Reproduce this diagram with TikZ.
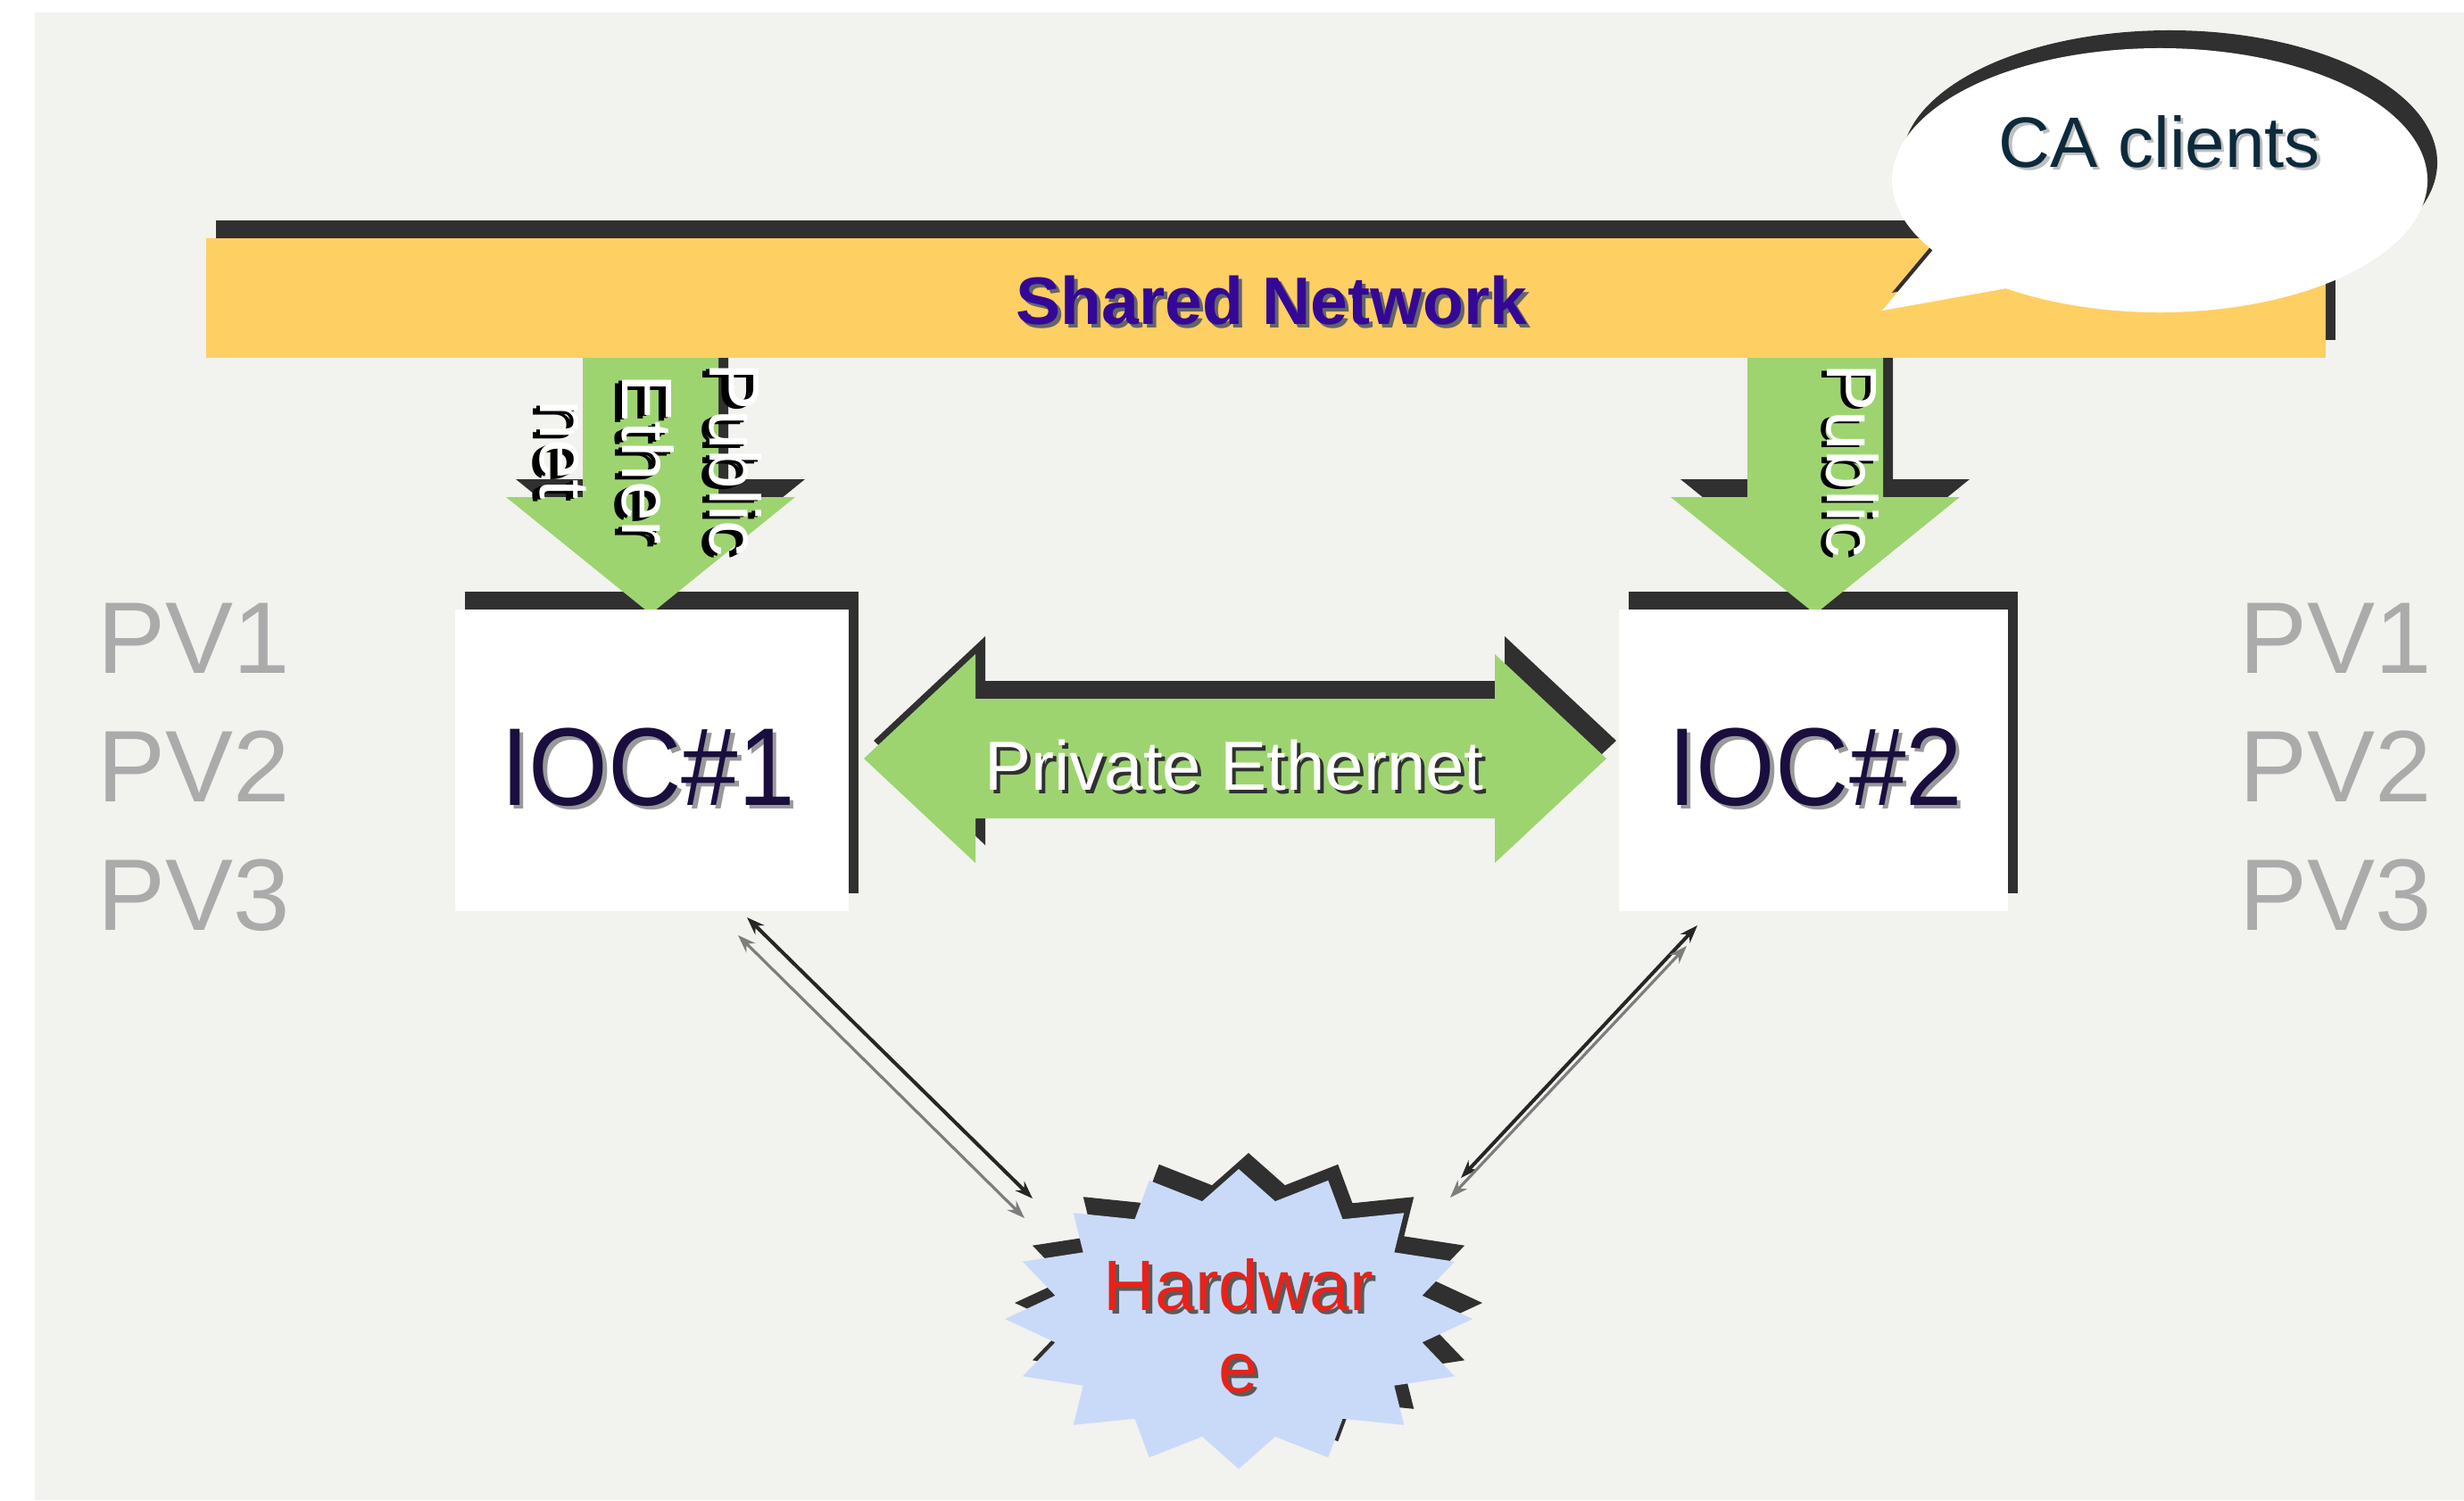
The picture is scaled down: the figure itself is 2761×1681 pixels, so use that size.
\documentclass[tikz,border=0pt]{standalone}
\usepackage{fontspec}
\setmainfont{Liberation Sans}
\usetikzlibrary{arrows.meta}

\definecolor{paper}{RGB}{242,242,238}
\definecolor{dropdark}{RGB}{48,48,48}
\definecolor{netyellow}{RGB}{254,207,99}
\definecolor{linkgreen}{RGB}{157,212,112}
\definecolor{hwblue}{RGB}{201,218,249}
\definecolor{netpurple}{RGB}{52,8,150}
\definecolor{clientnavy}{RGB}{12,42,60}
\definecolor{iocnavy}{RGB}{26,14,62}
\definecolor{hwred}{RGB}{232,34,24}
\definecolor{pvgrey}{RGB}{171,171,171}
\definecolor{wiregrey}{RGB}{125,125,125}
\definecolor{wiredark}{RGB}{38,38,38}

% text with a drop shadow: #1 shadow colour, #2 right shift, #3 raise, #4 text
\newcommand\shtext[4]{\leavevmode\rlap{\kern#2\raisebox{#3}{\textcolor{#1}{#4}}}#4}
% vertical labels carry a heavier, doubled shadow
\newcommand\heavysh[1]{\leavevmode
  \rlap{\kern0.4pt\raisebox{-1.2pt}{\textcolor{black}{#1}}}%
  \rlap{\kern0.9pt\raisebox{-2.2pt}{\textcolor{black}{#1}}}#1}

\tikzset{
  lbl/.style={inner sep=0pt, outer sep=0pt},
  pubtext/.style={lbl, rotate=-90, text=white, font=\fontsize{20pt}{23pt}\selectfont},
  pvtext/.style={lbl, anchor=base west, text=pvgrey, font=\fontsize{28.5pt}{33pt}\selectfont},
  pics/downarrow/.style={code={
    \fill[#1] (-76,-300) -- (76,-300) -- (76,-131) -- (162,-131) -- (0,0)
      -- (-162,-131) -- (-76,-131) -- cycle;}},
  pics/twoway/.style={code={
    \fill[#1] (-416,0) -- (-291,-117) -- (-291,-67) -- (291,-67) -- (291,-117)
      -- (416,0) -- (291,117) -- (291,67) -- (-291,67) -- (-291,117) -- cycle;}},
  pics/bubble/.style={code={
    \fill[#1] (-311,146) -- (125:300 and 148)
      arc[start angle=125, end angle=-212, x radius=300, y radius=148] -- cycle;}},
  pics/burst/.style={code={
    \fill[#1] plot[samples at={0,...,31}, variable=\k]
      ({(1-0.2*mod(\k,2))*262*cos(-90+11.25*\k)},
       {(1-0.2*mod(\k,2))*168*sin(-90+11.25*\k)}) -- cycle;}},
  wire/.style={line width=1pt,
    {Stealth[length=5pt,width=3.6pt]}-{Stealth[length=5pt,width=3.6pt]}},
}

\begin{document}
\begin{tikzpicture}[x=0.25pt, y=-0.25pt]
\useasboundingbox (0,0) rectangle (2761,1681);
\fill[white] (0,0) rectangle (2761,1681);
\fill[paper] (39,14) rectangle (2761,1681);

% IOC box shadows
\fill[dropdark] (521,663) rectangle (962,1001);
\fill[dropdark] (1825,663) rectangle (2261,1001);

% public links from the shared network
\pic at (740,668) {downarrow=dropdark};
\pic at (729,688) {downarrow=linkgreen};
\pic at (2045,668) {downarrow=dropdark};
\pic at (2034,688) {downarrow=linkgreen};

% IOC boxes
\fill[white] (510,683) rectangle (951,1021);
\fill[white] (1814,683) rectangle (2250,1021);

% shared network bar
\fill[dropdark] (242,247) rectangle (2617,381);
\fill[netyellow] (231,267) rectangle (2606,401);

% CA clients callout
\pic at (2431,182) {bubble=dropdark};
\pic at (2420,202) {bubble=white};

% private ethernet link
\pic at (1395,830) {twoway=dropdark};
\pic at (1384,850) {twoway=linkgreen};

% hardware burst
\pic at (1399,1460) {burst=dropdark};
\pic at (1388,1478) {burst=hwblue};

% labels
\node[lbl, anchor=base, text=netpurple, font=\fontsize{18.8pt}{23pt}\selectfont\bfseries]
  (net) at (1425,363) {\shtext{dropdark!75}{1pt}{-1pt}{Shared Network}};
\node[lbl, anchor=base, text=clientnavy, font=\fontsize{20pt}{24pt}\selectfont]
  (ca) at (2420,187) {\shtext{black!25}{0.8pt}{-0.8pt}{CA clients}};
\node[lbl, anchor=base, text=iocnavy, font=\fontsize{31pt}{36pt}\selectfont]
  (ioc1) at (726,902) {\scalebox{0.92}[1]{\shtext{black!40}{1.2pt}{-1.2pt}{IOC\#1}}};
\node[lbl, anchor=base, text=iocnavy, font=\fontsize{31pt}{36pt}\selectfont]
  (ioc2) at (2034,902) {\scalebox{0.92}[1]{\shtext{black!40}{1.2pt}{-1.2pt}{IOC\#2}}};
\node[lbl, anchor=base, text=white, font=\fontsize{19.5pt}{23pt}\selectfont]
  (priv) at (1383,885) {\shtext{dropdark}{1pt}{-1pt}{Private Ethernet}};

\node[pubtext] (pubL1) at (820,515) {\heavysh{Public}};
\node[pubtext] (pubL2) at (722,515) {\heavysh{Ether}};
\node[pubtext] (pubL3) at (627,504) {\heavysh{net}};
\node[pubtext] (pubR) at (2073,516) {\shtext{black}{0.6pt}{-1.4pt}{Public}};

\node[lbl, align=center, text=hwred, font=\fontsize{20pt}{23pt}\selectfont]
  (hw) at (1388,1488) {\shtext{dropdark!80}{1pt}{-1pt}{Hardwar}\\\shtext{dropdark!80}{1pt}{-1pt}{e}};

\foreach \n/\y/\t in {pv1/754/PV1, pv2/898/PV2, pv3/1042/PV3}{
  \node[pvtext] (l\n) at (109,\y) {\t};
  \node[pvtext] (r\n) at (2509,\y) {\t};
}

% IOC to hardware wiring (pairs of two-headed lines)
\coordinate (l1s) at (837,1028);  \coordinate (l1e) at (1157,1343);
\coordinate (l2s) at (827,1048);  \coordinate (l2e) at (1148,1365);
\coordinate (r1s) at (1902,1037); \coordinate (r1e) at (1637,1320);
\coordinate (r2s) at (1890,1060); \coordinate (r2e) at (1625,1342);
\draw[wire, wiredark] (l1s) -- (l1e);
\draw[wire, wiregrey, line width=0.8pt] (l2s) -- (l2e);
\draw[wire, wiredark] (r1s) -- (r1e);
\draw[wire, wiregrey, line width=0.8pt] (r2s) -- (r2e);
\end{tikzpicture}
\end{document}
